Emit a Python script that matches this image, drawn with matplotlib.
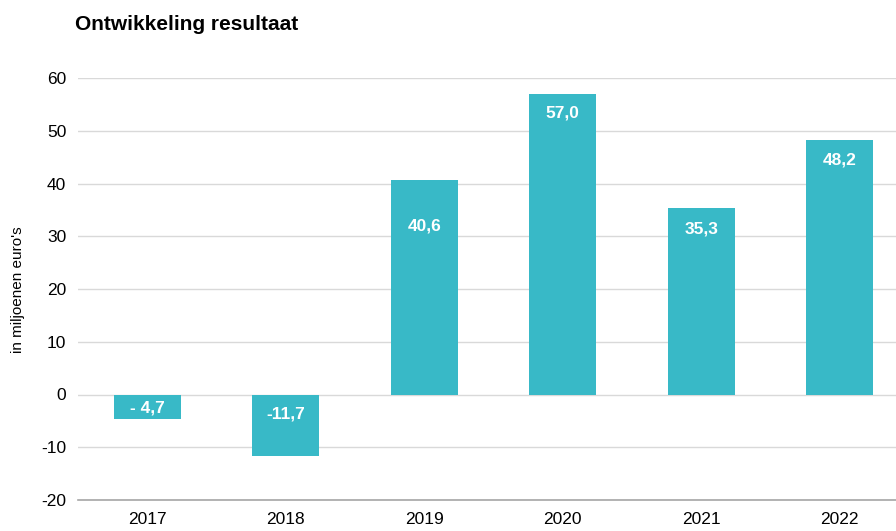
import matplotlib.pyplot as plt

plt.rcParams['font.family'] = ['Liberation Sans', 'DejaVu Sans']

years = ['2017', '2018', '2019', '2020', '2021', '2022']
result = [-4.7, -11.7, 40.6, 57.0, 35.3, 48.2]
labels = ['- 4,7', '-11,7', '40,6', '57,0', '35,3', '48,2']
yticks = [-20, -10, 0, 10, 20, 30, 40, 50, 60]

bar_color = '#38B9C7'

fig = plt.figure(figsize=(8.96, 5.31), dpi=100)
ax = fig.add_axes([78 / 896, 31 / 531, 831 / 896, 422 / 531])

x = range(len(years))
ax.bar(x, result, width=0.485, color=bar_color, zorder=3)

# label offsets (points) below the top (or below zero for negatives)
offsets = [-9.5, -14, -33, -14, -15, -14.5]
for i, (v, lab) in enumerate(zip(result, labels)):
    base = max(v, 0)
    ax.annotate(lab, (i, base), xytext=(0, offsets[i]), textcoords='offset points',
                ha='center', va='center', color='white', fontsize=12.5,
                fontweight='bold', zorder=4)

ax.set_xlim(-0.5, len(years) - 0.5)
ax.set_ylim(-20, 60)
ax.set_yticks(yticks)
ax.set_yticklabels([str(t) for t in yticks])
ax.set_xticks(list(x))
ax.set_xticklabels(years)
ax.tick_params(axis='both', length=0, labelsize=12.5, colors='#000000')
ax.tick_params(axis='y', pad=8.5)
ax.tick_params(axis='x', pad=9)

ax.grid(axis='y', color='#D9D9D9', linewidth=1, zorder=0)
for s in ['top', 'right', 'left']:
    ax.spines[s].set_visible(False)
ax.spines['bottom'].set_color('#A6A6A6')
ax.spines['bottom'].set_linewidth(1.2)

fig.text(18 / 896, 1 - 290 / 531, "in miljoenen euro's", fontsize=11,
         rotation=90, ha='center', va='center')

fig.text(75 / 896, 1 - 25 / 531, 'Ontwikkeling resultaat', fontsize=15,
         fontweight='bold', ha='left', va='center')

fig.savefig('out.png', dpi=100)
